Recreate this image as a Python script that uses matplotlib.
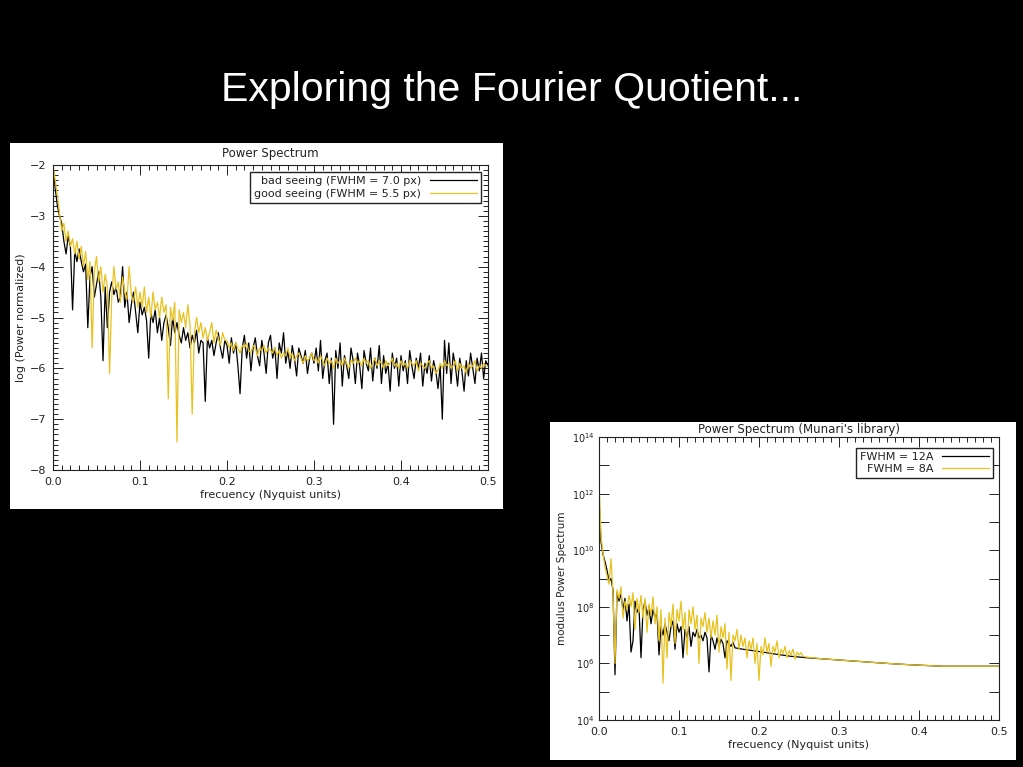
import matplotlib
matplotlib.use('Agg')
import matplotlib.pyplot as plt
import matplotlib.ticker as ticker
from matplotlib.patches import Rectangle
import numpy as np

# ---- panel 1 : log power, sampled every 0.0025 from 0.0 to 0.5 ----
freq1 = np.arange(201) * 0.0025

bad_seeing = [
    -2.0, -2.45, -2.8, -3.0, -3.15, -3.5, -3.75, -3.4, -3.6, -4.85, -3.7, -3.9, -3.65, -3.9, -4.1, -3.95, -5.2, -4.2, -4.0, -4.6,
    -4.35, -4.1, -4.6, -5.85, -4.4, -5.2, -4.5, -4.3, -4.55, -4.4, -4.7, -4.6, -4.0, -4.8, -4.5, -5.1, -4.75, -4.5, -4.9, -5.3,
    -4.7, -4.95, -4.8, -5.05, -5.8, -4.9, -5.1, -4.85, -5.3, -5.0, -5.45, -5.1, -4.95, -5.2, -5.55, -5.0, -5.3, -5.1, -5.35, -5.5,
    -5.2, -5.45, -5.3, -5.6, -5.35, -5.5, -5.25, -5.7, -5.45, -5.5, -6.65, -5.4, -5.6, -5.45, -5.75, -5.5, -5.3, -5.6, -5.8, -5.45,
    -5.55, -5.9, -5.4, -5.7, -5.5, -5.95, -6.5, -5.6, -5.35, -5.8, -5.5, -6.05, -5.6, -5.4, -5.75, -5.95, -5.45, -5.7, -6.1, -5.5,
    -5.35, -5.8, -5.6, -6.2, -5.5, -5.7, -5.3, -5.9, -5.65, -6.0, -5.55, -5.8, -6.15, -5.6, -5.75, -5.9, -5.65, -6.1, -5.8, -5.7,
    -5.9, -5.6, -6.05, -5.45, -6.2, -5.85, -5.7, -6.3, -5.8, -7.1, -5.65, -6.0, -5.5, -6.35, -5.75, -5.95, -6.2, -5.6, -5.85, -6.3,
    -5.7, -5.95, -6.4, -5.65, -5.9, -6.05, -5.6, -6.25, -5.8, -6.0, -5.55, -6.3, -5.75, -6.1, -5.9, -6.45, -5.7, -6.0, -5.8, -6.35,
    -5.75, -6.05, -5.85, -6.3, -5.65, -5.95, -6.2, -5.8, -6.0, -5.7, -6.35, -5.9, -6.1, -5.75, -6.25, -5.85, -6.05, -6.4, -5.95, -7.0,
    -5.45, -6.1, -5.5, -6.3, -5.7, -5.95, -6.35, -5.8, -6.05, -6.45, -5.85, -6.15, -5.7, -6.0, -6.3, -5.8, -6.05, -5.7, -6.2, -5.85,
    -5.95,
]

good_seeing = [
    -2.0, -2.3, -2.6, -2.95, -3.3, -3.15, -3.5, -3.3, -3.6, -3.45, -3.75, -3.5, -3.85, -3.6, -4.0, -3.7, -4.25, -3.9, -5.6, -4.1,
    -3.8, -4.3, -4.0, -4.5, -4.15, -4.4, -6.1, -4.6, -4.0, -4.45, -4.3, -4.7, -4.2, -4.5, -4.65, -4.0, -4.55, -4.7, -4.4, -4.8,
    -4.5, -4.8, -4.4, -4.9, -4.6, -5.0, -4.5, -4.85, -4.7, -5.0, -4.6, -4.9, -4.75, -6.6, -4.8, -5.05, -4.7, -7.45, -4.85, -5.1,
    -4.9, -5.2, -4.75, -5.15, -6.9, -5.3, -5.0, -5.3, -5.1, -5.4, -5.2, -5.45, -5.3, -5.1, -5.5, -5.25, -5.4, -5.55, -5.3, -5.45,
    -5.45, -5.6, -5.5, -5.65, -5.5, -5.6, -5.7, -5.55, -5.6, -5.5, -5.65, -5.7, -5.55, -5.6, -5.75, -5.6, -5.65, -5.55, -5.7, -5.6,
    -5.65, -5.7, -5.6, -5.75, -5.65, -5.8, -5.7, -5.75, -5.6, -5.8, -5.7, -5.85, -5.75, -5.7, -5.8, -5.9, -5.75, -5.85, -5.8, -5.7,
    -5.85, -5.8, -5.9, -5.75, -5.85, -5.95, -5.8, -5.9, -5.85, -6.0, -5.8, -5.9, -5.85, -5.95, -5.8, -5.9, -6.0, -5.85, -5.9, -5.8,
    -5.9, -5.85, -5.95, -5.8, -5.9, -5.85, -6.0, -5.9, -5.8, -5.95, -5.85, -5.9, -6.0, -5.85, -5.95, -5.9, -5.8, -5.95, -5.9, -6.0,
    -5.85, -5.95, -5.9, -6.0, -5.85, -5.9, -5.95, -5.85, -6.05, -5.9, -5.95, -6.0, -5.9, -5.85, -6.0, -5.95, -6.1, -6.05, -5.9, -6.0,
    -5.85, -5.95, -5.9, -6.0, -5.95, -5.85, -6.05, -5.9, -6.0, -5.95, -6.1, -5.9, -6.0, -5.95, -5.85, -6.05, -5.95, -6.0, -5.9, -5.95,
    -5.95,
]

# ---- panel 2 : modulus power spectrum (Munari's library), given as log10 ----
freq_12A = list(np.arange(69) * 0.0025) + [0.18, 0.2, 0.22, 0.24, 0.26, 0.28, 0.3, 0.33, 0.36, 0.39, 0.43, 0.46, 0.5]
log_12A = [
    11.85, 10.3, 9.85, 9.6, 9.3, 8.9, 9.0, 8.6, 5.6, 8.5, 8.2, 8.45, 7.9, 8.3, 7.5, 8.1, 6.4, 6.8, 8.2, 7.8,
    8.0, 6.2, 7.9, 8.2, 7.7, 8.0, 7.4, 7.9, 7.6, 7.8, 6.3, 7.3, 7.0, 7.4, 7.1, 6.8, 7.3, 7.5, 6.5, 7.4,
    7.1, 7.3, 6.2, 7.2, 6.9, 7.3, 6.6, 7.1, 6.95, 7.2, 6.9, 7.0, 6.8, 7.1, 6.9, 5.7, 7.0, 6.8, 6.5, 6.9,
    6.6, 6.85, 6.7, 6.2, 6.8, 6.7, 6.6, 6.75, 6.55,
    6.5, 6.42, 6.33, 6.25, 6.2, 6.16, 6.12, 6.06, 6.0, 5.95, 5.9, 5.9, 5.9,
]

freq_8A = list(np.arange(103) * 0.0025) + [0.26, 0.28, 0.3, 0.33, 0.36, 0.39, 0.43, 0.46, 0.5]
log_8A = [
    12.45, 10.5, 9.9, 9.4, 9.1, 8.8, 9.7, 8.5, 6.0, 8.6, 8.3, 8.7, 7.6, 8.2, 7.9, 8.4, 8.0, 8.5, 7.2, 8.3,
    7.8, 8.4, 7.6, 8.3, 7.1, 8.1, 7.7, 8.35, 7.4, 8.0, 6.8, 7.9, 5.3, 7.6, 6.2, 7.8, 7.3, 8.1, 6.7, 7.9,
    7.5, 8.2, 7.2, 7.8, 6.3, 7.9, 7.4, 8.0, 7.2, 7.7, 6.0, 7.6, 7.3, 7.8, 7.1, 7.6, 6.9, 7.5, 7.0, 7.7,
    6.4, 7.3, 6.9, 7.4, 5.8, 7.1, 5.4, 7.0, 6.8, 7.2, 6.5, 7.0, 6.6, 6.9, 6.2, 6.8, 6.5, 6.9, 6.0, 6.7,
    5.4, 6.6, 6.3, 6.9, 6.4, 6.7, 5.9, 6.6, 6.4, 6.8, 6.2, 6.5, 6.35, 6.6, 6.2, 6.45, 6.3, 6.5, 6.15, 6.4,
    6.3, 6.38, 6.25,
    6.22, 6.16, 6.12, 6.06, 6.0, 5.95, 5.9, 5.9, 5.9,
]

YELLOW = '#e8c21f'
INK = '#222222'

plt.rcParams['font.family'] = ['DejaVu Sans']
plt.rcParams['font.size'] = 7.5
plt.rcParams['text.color'] = INK
plt.rcParams['axes.labelcolor'] = INK
plt.rcParams['xtick.color'] = INK
plt.rcParams['ytick.color'] = INK
plt.rcParams['axes.edgecolor'] = INK
plt.rcParams['axes.linewidth'] = 0.8


def style_axes(ax):
    ax.tick_params(which='both', direction='in', top=True, right=True, width=0.7, labelsize=8, pad=5)
    ax.tick_params(which='major', length=7)
    ax.tick_params(which='minor', length=3.5)


fig = plt.figure(figsize=(10.23, 7.67), dpi=100, facecolor='black')

fig.text(0.5, 1 - 101 / 767, 'Exploring the Fourier Quotient...', color='white', ha='center', va='baseline',
         fontsize=29.5, family=['Liberation Sans', 'DejaVu Sans'])

# white boxes behind the two plots
fig.add_artist(Rectangle((10 / 1023, 1 - 509 / 767), 493 / 1023, 366 / 767, transform=fig.transFigure,
                         facecolor='white', edgecolor='none', zorder=0))
fig.add_artist(Rectangle((550 / 1023, 1 - 760 / 767), 466 / 1023, 338 / 767, transform=fig.transFigure,
                         facecolor='white', edgecolor='none', zorder=0))

# ---- panel 1 ----
ax1 = fig.add_axes([53 / 1023, 1 - 470 / 767, 435 / 1023, 305 / 767])
ax1.plot(freq1, bad_seeing, color='black', lw=0.9, label='bad seeing (FWHM = 7.0 px)')
ax1.plot(freq1, good_seeing, color=YELLOW, lw=0.9, label='good seeing (FWHM = 5.5 px)')
ax1.set_xlim(0, 0.5)
ax1.set_ylim(-8, -2)
ax1.xaxis.set_major_locator(ticker.MultipleLocator(0.1))
ax1.xaxis.set_minor_locator(ticker.MultipleLocator(0.01))
ax1.xaxis.set_major_formatter(ticker.FormatStrFormatter('%.1f'))
ax1.yaxis.set_major_locator(ticker.MultipleLocator(1))
ax1.yaxis.set_minor_locator(ticker.MultipleLocator(0.1))
style_axes(ax1)
ax1.set_title('Power Spectrum', fontsize=8.5, pad=6)
ax1.set_xlabel('frecuency (Nyquist units)', fontsize=8, labelpad=2)
ax1.set_ylabel('log (Power normalized)', fontsize=8)
ax1.yaxis.set_label_coords(-0.063, 0.5)
ax1.legend(loc='upper right', markerfirst=False, fancybox=False, framealpha=1, edgecolor=INK,
           fontsize=8, handlelength=4.2, borderaxespad=0.6, labelspacing=0.25, borderpad=0.4)

# ---- panel 2 ----
ax2 = fig.add_axes([599 / 1023, 1 - 720 / 767, 400 / 1023, 283 / 767])
ax2.plot(freq_12A, 10 ** np.array(log_12A), color='black', lw=0.9, label='FWHM = 12A')
ax2.plot(freq_8A, 10 ** np.array(log_8A), color=YELLOW, lw=0.9, label='FWHM = 8A')
ax2.set_yscale('log')
ax2.set_xlim(0, 0.5)
ax2.set_ylim(1e4, 1e14)
ax2.xaxis.set_major_locator(ticker.MultipleLocator(0.1))
ax2.xaxis.set_minor_locator(ticker.MultipleLocator(0.01))
ax2.xaxis.set_major_formatter(ticker.FormatStrFormatter('%.1f'))
ax2.yaxis.set_major_locator(ticker.FixedLocator([10.0 ** e for e in range(4, 15, 2)]))
ax2.yaxis.set_minor_locator(ticker.FixedLocator([10.0 ** e for e in range(5, 14, 2)]))
ax2.yaxis.set_major_formatter(ticker.FuncFormatter(lambda v, p: r'$10^{%d}$' % round(np.log10(v))))
ax2.yaxis.set_minor_formatter(ticker.NullFormatter())
style_axes(ax2)
ax2.tick_params(axis='y', which='minor', length=7)
ax2.tick_params(axis='y', which='major', labelsize=7, pad=3)
ax2.set_title("Power Spectrum (Munari's library)", fontsize=8.5, pad=3)
ax2.set_xlabel('frecuency (Nyquist units)', fontsize=8, labelpad=2)
ax2.set_ylabel('modulus Power Spectrum', fontsize=7.5)
ax2.yaxis.set_label_coords(-0.08, 0.5)
ax2.legend(loc='upper right', bbox_to_anchor=(0.985, 0.96), markerfirst=False, fancybox=False, framealpha=1,
           edgecolor=INK, fontsize=8, handlelength=4.2, borderaxespad=0.0, labelspacing=0.15, borderpad=0.35)

fig.savefig('out.png', dpi=100, facecolor='black')
